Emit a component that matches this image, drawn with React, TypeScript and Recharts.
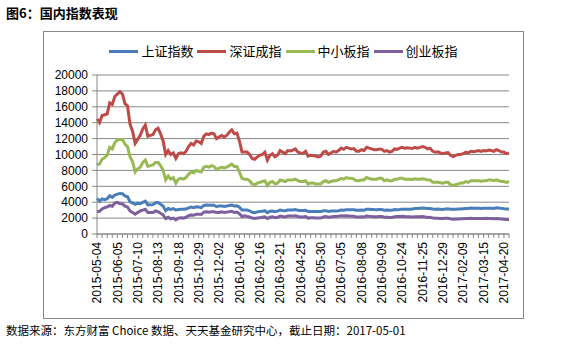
import { LineChart, Line, XAxis, YAxis, CartesianGrid } from 'recharts';

// one label every 24 trading days, starting 2015-05-04
const dateLabels = [
  '2015-05-04', '2015-06-05', '2015-07-10', '2015-08-13', '2015-09-18', '2015-10-29',
  '2015-12-02', '2016-01-06', '2016-02-16', '2016-03-21', '2016-04-25', '2016-05-30',
  '2016-07-05', '2016-08-08', '2016-09-09', '2016-10-24', '2016-11-25', '2016-12-29',
  '2017-02-09', '2017-03-15', '2017-04-20',
];

const yTicks = [0, 2000, 4000, 6000, 8000, 10000, 12000, 14000, 16000, 18000, 20000];

// closes sampled every 3 trading days
const sh = [
  4480, 4112, 4401, 4308, 4446, 4813, 4620, 4910, 5023, 5106,
  5062, 4785, 4690, 4053, 3912, 3727, 3878, 3805, 3992, 4124,
  3663, 3664, 3695, 3928, 3955, 3749, 3508, 2927, 3206, 3080,
  3197, 3005, 3097, 3116, 3100, 3143, 3293, 3391, 3320, 3430,
  3387, 3316, 3590, 3650, 3607, 3618, 3616, 3436, 3537, 3536,
  3455, 3510, 3578, 3636, 3533, 3539, 3361, 3017, 3008, 3008,
  2916, 2735, 2689, 2781, 2836, 2860, 2928, 2688, 2859, 2901,
  2810, 2870, 3018, 2960, 2920, 3010, 3009, 3023, 3078, 2973,
  2946, 2945, 2991, 2832, 2836, 2843, 2825, 2815, 2822, 2925,
  2936, 2842, 2885, 2905, 2895, 2930, 3006, 2988, 3060, 3043,
  3039, 3050, 2979, 2978, 3004, 3002, 3110, 3108, 3085, 3070,
  3063, 3090, 3078, 3002, 3025, 2980, 2998, 3066, 3064, 3084,
  3128, 3112, 3122, 3125, 3129, 3210, 3208, 3248, 3261, 3250,
  3204, 3215, 3155, 3122, 3137, 3122, 3096, 3158, 3171, 3119,
  3108, 3123, 3150, 3156, 3183, 3217, 3202, 3261, 3228, 3231,
  3242, 3213, 3241, 3250, 3248, 3253, 3223, 3287, 3274, 3222,
  3172, 3134, 3155,
];

const sz = [
  14500, 14000, 14900, 15000, 15100, 16500, 16300, 17300, 17600, 17900,
  17600, 16400, 16100, 13800, 12900, 11400, 11900, 12400, 13200, 13700,
  12300, 12400, 12500, 13100, 13300, 12600, 11700, 10000, 10500, 10000,
  10200, 9500, 10100, 10200, 10100, 10400, 11000, 11400, 11200, 11700,
  11600, 11400, 12300, 12600, 12500, 12700, 12600, 12000, 12200, 12400,
  12200, 12400, 12800, 13100, 12600, 12700, 11700, 10300, 10300, 10300,
  10000, 9500, 9400, 9700, 9900, 10000, 10300, 9300, 9900, 10100,
  9700, 9900, 10500, 10300, 10100, 10500, 10450, 10550, 10700, 10300,
  10200, 10150, 10400, 9800, 9900, 9850, 9800, 9700, 9800, 10300,
  10400, 10000, 10200, 10400, 10300, 10500, 10800, 10650, 10900, 10800,
  10700, 10750, 10400, 10400, 10600, 10500, 10900, 10800, 10700, 10600,
  10600, 10700, 10650, 10400, 10500, 10300, 10400, 10700, 10650, 10800,
  10900, 10800, 10850, 10800, 10750, 10900, 10800, 10900, 11000, 10900,
  10700, 10800, 10400, 10300, 10350, 10200, 10100, 10200, 10250, 9900,
  9750, 9900, 10000, 10000, 10100, 10300, 10200, 10400, 10350, 10400,
  10500, 10400, 10500, 10450, 10550, 10500, 10400, 10600, 10500, 10300,
  10300, 10100, 10200,
];

const sme = [
  8700, 8800, 9400, 9600, 9900, 10900, 10700, 11500, 11800, 11900,
  11900, 11300, 11000, 9700, 9100, 7800, 8200, 8400, 9000, 9300,
  8500, 8600, 8700, 9000, 9000, 8600, 8000, 6800, 7300, 6900,
  7100, 6400, 6900, 7000, 6900, 7100, 7500, 7800, 7700, 8000,
  7900, 7800, 8400, 8500, 8400, 8600, 8500, 8100, 8300, 8400,
  8300, 8400, 8600, 8800, 8500, 8500, 7800, 7000, 6900, 6900,
  6700, 6300, 6200, 6400, 6500, 6600, 6700, 6100, 6500, 6600,
  6300, 6400, 6800, 6700, 6600, 6800, 6800, 6800, 6900, 6700,
  6600, 6600, 6700, 6300, 6400, 6400, 6300, 6300, 6300, 6600,
  6700, 6500, 6600, 6700, 6700, 6800, 7000, 6900, 7100, 7000,
  7000, 6900, 6700, 6700, 6800, 6800, 7100, 7000, 6900, 6900,
  6900, 7000, 7000, 6700, 6800, 6700, 6700, 6900, 6900, 7000,
  7000, 6900, 6900, 6900, 6850, 6950, 6900, 6900, 6950, 6900,
  6800, 6800, 6500, 6500, 6500, 6450, 6400, 6500, 6500, 6200,
  6100, 6200, 6300, 6400, 6400, 6600, 6500, 6700, 6700, 6700,
  6700, 6650, 6700, 6700, 6800, 6800, 6700, 6800, 6700, 6600,
  6600, 6500, 6600,
];

const cyb = [
  2800, 2850, 3150, 3300, 3400, 3600, 3500, 3900, 3980, 3800,
  3800, 3500, 3400, 2900, 2700, 2500, 2700, 2900, 3000, 3100,
  2700, 2700, 2700, 2900, 2800, 2600, 2400, 1950, 2100, 1900,
  2000, 1780, 2000, 2050, 2000, 2100, 2300, 2400, 2350, 2500,
  2500, 2450, 2750, 2800, 2750, 2800, 2800, 2700, 2700, 2800,
  2700, 2750, 2800, 2850, 2700, 2750, 2550, 2200, 2300, 2200,
  2150, 2000, 1950, 2000, 2050, 2100, 2150, 1950, 2100, 2150,
  2050, 2100, 2250, 2200, 2150, 2250, 2250, 2250, 2300, 2200,
  2150, 2150, 2200, 2000, 2050, 2050, 2000, 2000, 2000, 2150,
  2200, 2100, 2150, 2200, 2200, 2250, 2300, 2280, 2300, 2250,
  2220, 2230, 2150, 2150, 2180, 2150, 2250, 2220, 2200, 2180,
  2170, 2200, 2190, 2100, 2120, 2070, 2080, 2180, 2190, 2200,
  2230, 2190, 2180, 2170, 2150, 2180, 2170, 2180, 2200, 2150,
  2090, 2100, 2000, 1980, 1990, 1960, 1950, 1990, 1980, 1900,
  1850, 1880, 1900, 1910, 1930, 1960, 1940, 1980, 1950, 1950,
  1960, 1940, 1960, 1970, 1960, 1960, 1930, 1950, 1930, 1880,
  1860, 1810, 1820,
];

const series = [
  { key: 'sh', name: '上证指数', color: '#4A7EBB' },
  { key: 'sz', name: '深证成指', color: '#BE4B48' },
  { key: 'sme', name: '中小板指', color: '#98B954' },
  { key: 'cyb', name: '创业板指', color: '#7D60A0' },
];

const data = sh.map((v, i) => ({ i, sh: v, sz: sz[i], sme: sme[i], cyb: cyb[i] }));

const GRID = '#888888';

function DateTick(props: any) {
  const { x, y, payload } = props;
  const i = payload.value as number;
  const ty = y + 8;
  return (
    <g>
      {i % 2 === 0 && <line x1={x} y1={y} x2={x} y2={y + 4} stroke={GRID} />}
      {i % 8 === 0 && (
        <text
          x={x}
          y={ty}
          transform={`rotate(-90 ${x} ${ty})`}
          textAnchor="end"
          dy="0.35em"
          fontSize={12}
          fill="#000"
        >
          {dateLabels[i / 8]}
        </text>
      )}
    </g>
  );
}

export default function App() {
  return (
    <div style={{ position: 'relative', width: 561, height: 351, background: '#fff', fontFamily: '"Liberation Sans", Arial, "Noto Sans CJK SC", sans-serif' }}>
      <style>{'body{margin:0}'}</style>
      <div style={{ position: 'absolute', left: 6, top: 3, fontSize: 13, fontWeight: 'bold', fontFamily: '"Noto Sans CJK SC", sans-serif', color: '#000' }}>
        图6：国内指数表现
      </div>
      <div style={{ position: 'absolute', left: 43, top: 31, width: 479, height: 286, border: '1px solid #888' }} />
      <div style={{ position: 'absolute', left: 43, top: 42, width: 481, display: 'flex', justifyContent: 'center', gap: 4, fontFamily: '"Noto Sans CJK SC", sans-serif', fontSize: 13, color: '#000' }}>
        {series.map((s) => (
          <div key={s.key} style={{ display: 'flex', alignItems: 'center' }}>
            <span style={{ display: 'inline-block', width: 29, height: 3, background: s.color, marginRight: 3 }} />
            <span style={{ lineHeight: '18px' }}>{s.name}</span>
          </div>
        ))}
      </div>
      <div style={{ position: 'absolute', left: 0, top: 0 }}>
        <LineChart width={561} height={351} data={data} margin={{ top: 75, right: 52, bottom: 47, left: 37 }}>
          <CartesianGrid vertical={false} stroke={GRID} />
          <XAxis
            dataKey="i"
            type="category"
            interval={0}
            tickLine={false}
            tickSize={0}
            tickMargin={0}
            height={70}
            axisLine={{ stroke: GRID }}
            tick={<DateTick />}
          />
          <YAxis
            width={60}
            domain={[0, 20000]}
            ticks={yTicks}
            interval={0}
            tickSize={5}
            tickMargin={4}
            axisLine={{ stroke: GRID }}
            tickLine={{ stroke: GRID }}
            tick={{ fontSize: 12, fill: '#000' }}
          />
          {series.map((s) => (
            <Line
              key={s.key}
              dataKey={s.key}
              name={s.name}
              type="linear"
              stroke={s.color}
              strokeWidth={3}
              dot={false}
              isAnimationActive={false}
            />
          ))}
        </LineChart>
      </div>
      <div style={{ position: 'absolute', left: 6, top: 322, fontSize: 11.5, fontFamily: '"Noto Sans CJK SC", sans-serif', color: '#000', whiteSpace: 'nowrap' }}>
        数据来源：东方财富 Choice 数据、天天基金研究中心，截止日期：2017-05-01
      </div>
    </div>
  );
}
